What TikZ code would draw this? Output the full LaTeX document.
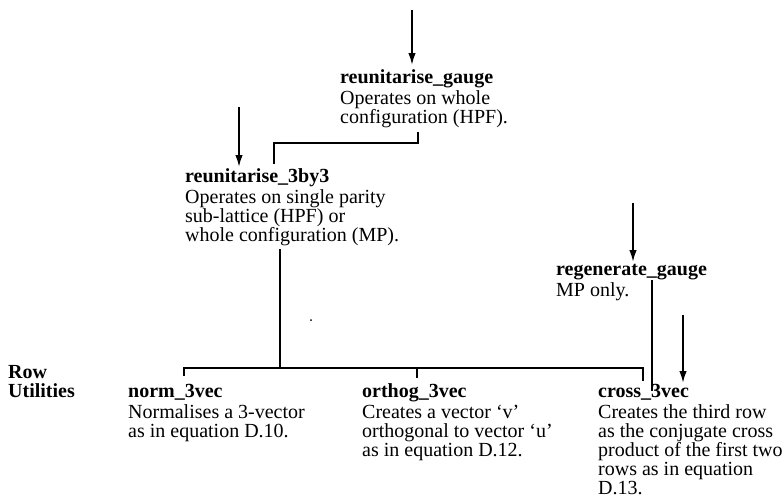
\documentclass[tikz,border=0pt]{standalone}
\usepackage{fontspec}
\setmainfont{Liberation Serif}
\usetikzlibrary{arrows.meta}

% a block: bold title line followed by body lines, baseline at the title
\newcommand\tbox[2]{\vtop{\hbox{\bfseries #1}\vskip2pt #2}}
\newcommand\bline[1]{\hbox{#1}}

\tikzset{
  blk/.style={anchor=base west, inner sep=0pt, font=\fontsize{20}{19}\selectfont},
  wire/.style={line width=1.8pt, line cap=rect},
  feed/.style={line width=1.8pt, -{Latex[length=12pt,width=7.5pt]}},
}

\begin{document}
\begin{tikzpicture}[x=1pt, y=-1pt]
\useasboundingbox (0,0) rectangle (784,499);

% routine blocks
\node[blk] (gauge) at (340,83)
  {\tbox{reunitarise\_gauge}{\bline{Operates on whole}\bline{configuration (HPF).}}};
\node[blk] (r3by3) at (185,182)
  {\tbox{reunitarise\_3by3}{\bline{Operates on single parity}\bline{sub-lattice (HPF) or}\bline{whole configuration (MP).}}};
\node[blk] (regen) at (556,275)
  {\tbox{regenerate\_gauge}{\bline{MP only.}}};
\node[blk] (norm) at (128,397)
  {\tbox{norm\_3vec}{\bline{Normalises a 3-vector}\bline{as in equation D.10.}}};
\node[blk] (orthog) at (362,397)
  {\tbox{orthog\_3vec}{\bline{Creates a vector `v'}\bline{orthogonal to vector `u'}\bline{as in equation D.12.}}};
\node[blk] (cross) at (598,397)
  {\tbox{cross\_3vec}{\bline{Creates the third row}\bline{as the conjugate cross}\bline{product of the first two}\bline{rows as in equation}\bline{D.13.}}};
\node[blk] (rowlab) at (8,378)
  {\vtop{\bfseries\hbox{Row}\hbox{Utilities}}};

% connector points
\coordinate (in1) at (412,10);   \coordinate (tip1) at (412,65);
\coordinate (in2) at (239,107);  \coordinate (tip2) at (239,167);
\coordinate (in3) at (633,203);  \coordinate (tip3) at (633,262);
\coordinate (in4) at (683,315);  \coordinate (tip4) at (683,383);
\coordinate (g0) at (418,133);   \coordinate (g1) at (418,143);
\coordinate (g2) at (274,143);   \coordinate (g3) at (274,163);
\coordinate (b0) at (280,250);   \coordinate (bj) at (280,368);
\coordinate (bl) at (184,368);   \coordinate (bm) at (417,368);
\coordinate (br) at (643,368);
\coordinate (nt) at (184,375);   \coordinate (ot) at (417,377);
\coordinate (ct) at (643,380);
\coordinate (r0) at (652,281);   \coordinate (r1) at (652,390);

% incoming calls
\draw[feed] (in1) -- (tip1);
\draw[feed] (in2) -- (tip2);
\draw[feed] (in3) -- (tip3);
\draw[feed] (in4) -- (tip4);

% call tree
\draw[wire] (g0) -- (g1) -- (g2) -- (g3);
\draw[wire] (b0) -- (bj);
\draw[wire] (bl) -- (br);
\draw[wire] (bl) -- (nt);
\draw[wire] (bm) -- (ot);
\draw[wire] (br) -- (ct);
\draw[wire] (r0) -- (r1);

\fill (311,320) circle (1pt);
\end{tikzpicture}
\end{document}
